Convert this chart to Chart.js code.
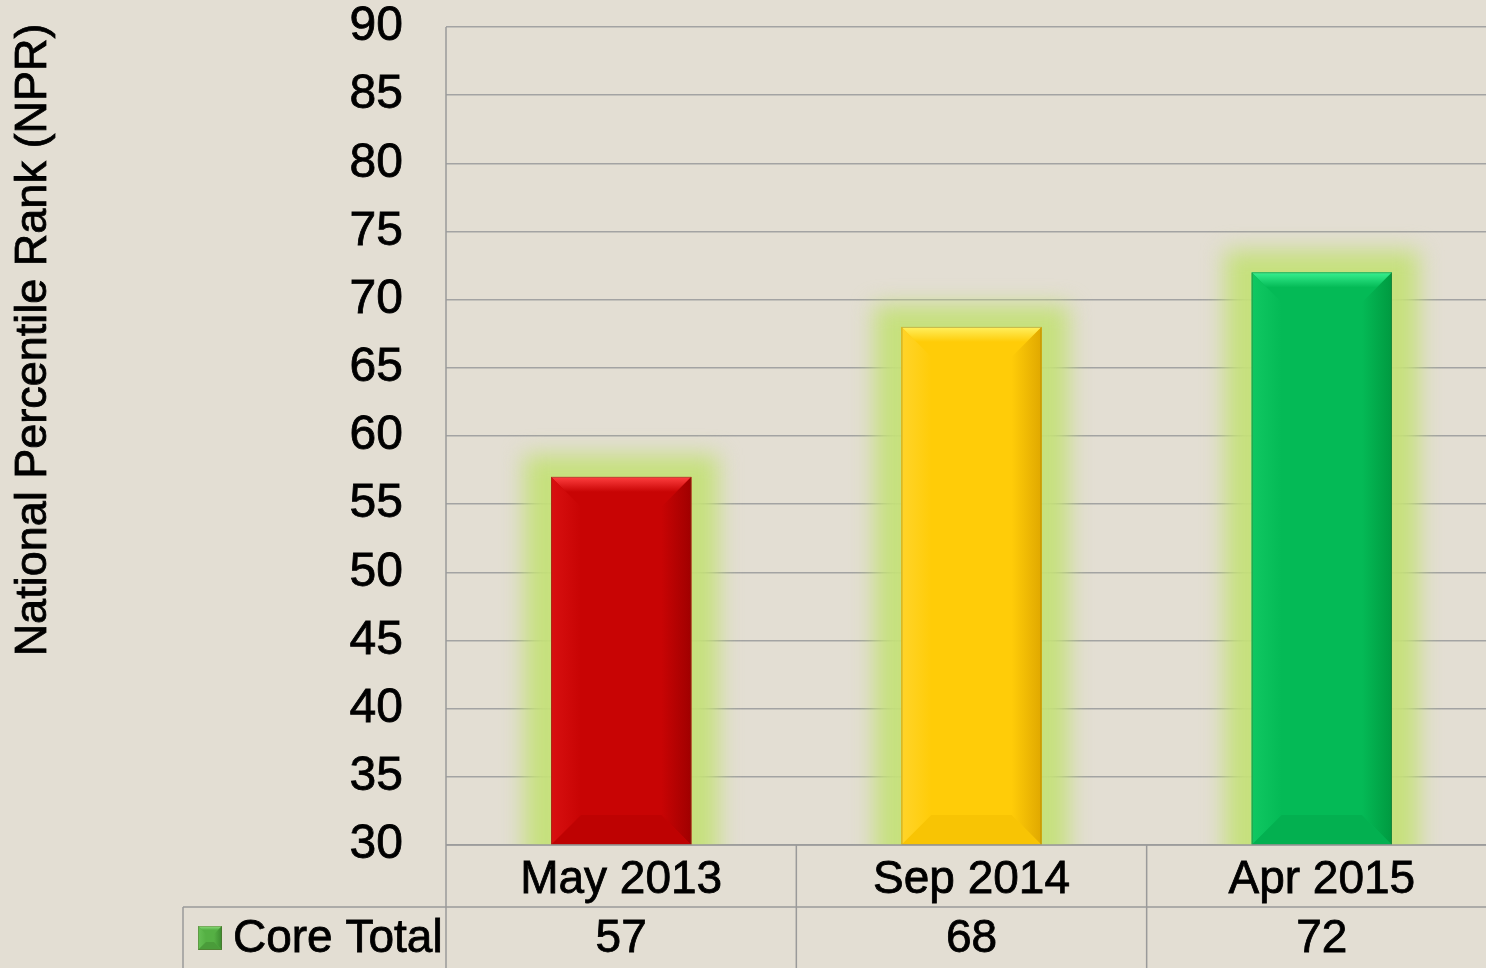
<!DOCTYPE html>
<html>
<head>
<meta charset="utf-8">
<script src="https://cdn.jsdelivr.net/npm/chart.js@4.4.0/dist/chart.umd.min.js"></script>
<style>
  body { margin: 0; background: #E3DED3; overflow: hidden; }
  canvas { display: block; }
</style>
</head>
<body>
<canvas id="myChart" width="1497" height="968"></canvas>
<script>
const testDates = ['May 2013', 'Sep 2014', 'Apr 2015'];
const coreTotal = [57, 68, 72];
const seriesName = 'Core Total';
const yTitle = 'National Percentile Rank (NPR)';

// main, light (top), left, right (dark), bottom
const barColors = [
    ['#C80404', '#FF4040', '#D81010', '#A00000', '#BE0202'],
    ['#FFCC08', '#FFF060', '#FFD42A', '#E0A800', '#F8C404'],
    ['#04BA56', '#38F090', '#10C862', '#009A40', '#03B050']
];

const sans = '"Liberation Sans", Arial, sans-serif';

// glow behind each bar
const glowPlugin = {
    id: 'glow',
    beforeDatasetsDraw(chart) {
        const ctx = chart.ctx;
        const area = chart.chartArea;
        const meta = chart.getDatasetMeta(0);
        ctx.save();
        ctx.beginPath();
        ctx.rect(area.left, 0, area.right - area.left, area.bottom);
        ctx.clip();
        ctx.filter = 'blur(11px)';
        ctx.fillStyle = 'rgba(196, 224, 120, 0.95)';
        meta.data.forEach((bar) => {
            const half = bar.width / 2;
            ctx.fillRect(bar.x - half - 27, bar.y - 22, bar.width + 54, area.bottom - bar.y + 60);
        });
        ctx.restore();
    }
};

const bevel = (ctx, x0, y0, x1, y1, d, cols) => {
    ctx.fillStyle = cols[0];
    ctx.fillRect(x0, y0, x1 - x0, y1 - y0);
    const poly = (pts, fill) => {
        ctx.beginPath();
        ctx.moveTo(pts[0][0], pts[0][1]);
        pts.slice(1).forEach(p => ctx.lineTo(p[0], p[1]));
        ctx.closePath();
        ctx.fillStyle = fill;
        ctx.fill();
    };
    // top
    let g = ctx.createLinearGradient(0, y0, 0, y0 + d);
    g.addColorStop(0, cols[1]);
    g.addColorStop(0.5, cols[0]);
    g.addColorStop(1, cols[0]);
    poly([[x0, y0], [x1, y0], [x1 - d, y0 + d], [x0 + d, y0 + d]], g);
    // left
    g = ctx.createLinearGradient(x0, 0, x0 + d, 0);
    g.addColorStop(0, cols[2]);
    g.addColorStop(1, cols[0]);
    poly([[x0, y0], [x0 + d, y0 + d], [x0 + d, y1 - d], [x0, y1]], g);
    // right
    g = ctx.createLinearGradient(x1 - d, 0, x1, 0);
    g.addColorStop(0, cols[0]);
    g.addColorStop(1, cols[3]);
    poly([[x1, y0], [x1, y1], [x1 - d, y1 - d], [x1 - d, y0 + d]], g);
    // bottom
    poly([[x0, y1], [x0 + d, y1 - d], [x1 - d, y1 - d], [x1, y1]], cols[4]);
    ctx.strokeStyle = 'rgba(90, 90, 40, 0.35)';
    ctx.lineWidth = 1;
    ctx.strokeRect(x0 + 0.5, y0 + 0.5, x1 - x0 - 1, y1 - y0 - 1);
};

const bevelPlugin = {
    id: 'bevel',
    afterDatasetsDraw(chart) {
        const ctx = chart.ctx;
        const meta = chart.getDatasetMeta(0);
        const bottom = chart.chartArea.bottom;
        ctx.save();
        meta.data.forEach((bar, i) => {
            const half = bar.width / 2;
            bevel(ctx, bar.x - half, bar.y, bar.x + half, Math.min(bar.base, bottom), 30, barColors[i]);
        });
        ctx.restore();
    }
};

const boldText = (ctx, text, x, y) => {
    ctx.fillText(text, x, y);
    ctx.strokeText(text, x, y);
};

// y title, data table below the plot
const tablePlugin = {
    id: 'table',
    afterDraw(chart) {
        const ctx = chart.ctx;
        const area = chart.chartArea;
        const x = chart.scales.x;
        const rowTop = 907;
        const bottom = chart.height;
        const catW = (area.right - area.left) / testDates.length;
        ctx.save();
        ctx.strokeStyle = '#9A9A9A';
        ctx.lineWidth = 1.5;
        ctx.beginPath();
        ctx.moveTo(area.left, area.top);
        ctx.lineTo(area.left, bottom);
        ctx.moveTo(area.left, area.bottom);
        ctx.lineTo(area.right, area.bottom);
        for (let i = 1; i < testDates.length; i++) {
            const lx = area.left + catW * i;
            ctx.moveTo(lx, area.bottom);
            ctx.lineTo(lx, bottom);
        }
        ctx.moveTo(183, rowTop);
        ctx.lineTo(area.right, rowTop);
        ctx.moveTo(183, rowTop);
        ctx.lineTo(183, bottom);
        ctx.stroke();

        // legend key
        bevel(ctx, 198, 926, 222, 950, 8, ['#55B044', '#90E080', '#66C055', '#3C8A30', '#4A9C3A']);

        // values row
        ctx.fillStyle = '#000';
        ctx.strokeStyle = '#000';
        ctx.lineWidth = 0.8;
        ctx.font = '46px ' + sans;
        ctx.textAlign = 'center';
        ctx.textBaseline = 'middle';
        coreTotal.forEach((v, i) => {
            boldText(ctx, String(v), x.getPixelForValue(i), rowTop + 32);
        });
        ctx.textAlign = 'left';
        boldText(ctx, seriesName, 233, rowTop + 32);

        // y title
        ctx.translate(34, 340);
        ctx.rotate(-Math.PI / 2);
        ctx.textAlign = 'center';
        ctx.font = '45px ' + sans;
        boldText(ctx, yTitle, 0, 0);
        ctx.restore();
    }
};

const noPad = (scale) => {
    scale.paddingTop = 0;
    scale.paddingBottom = 0;
    scale.paddingLeft = 0;
    scale.paddingRight = 0;
};

const drawChart = () => {
    const data = {
        labels: testDates,
        datasets: [{
            label: seriesName,
            data: coreTotal,
            backgroundColor: barColors.map(c => c[0]),
            borderWidth: 0,
            barPercentage: 0.4,
            categoryPercentage: 1
        }]
    };

    const config = {
        type: 'bar',
        data: data,
        options: {
            responsive: false,
            animation: false,
            layout: { padding: { top: 27, right: 0, left: 0, bottom: 0 } },
            plugins: {
                legend: { display: false },
                tooltip: { enabled: false }
            },
            scales: {
                x: {
                    grid: { display: false },
                    border: { display: false },
                    ticks: {
                        color: '#000',
                        font: { family: sans, size: 46 },
                        textStrokeColor: '#000',
                        textStrokeWidth: 0.8,
                        padding: 0
                    },
                    afterFit: (scale) => { scale.height = 123; noPad(scale); }
                },
                y: {
                    min: 30,
                    max: 90,
                    grid: { color: '#A3A3A3', lineWidth: 1.5, drawTicks: false },
                    border: { display: false },
                    ticks: {
                        stepSize: 5,
                        color: '#000',
                        font: { family: sans, size: 48 },
                        textStrokeColor: '#000',
                        textStrokeWidth: 0.8,
                        padding: 43
                    },
                    afterFit: (scale) => { scale.width = 446; noPad(scale); }
                }
            }
        },
        plugins: [glowPlugin, bevelPlugin, tablePlugin]
    };

    new Chart(document.getElementById('myChart'), config);
};

window.onload = drawChart;
</script>
</body>
</html>
